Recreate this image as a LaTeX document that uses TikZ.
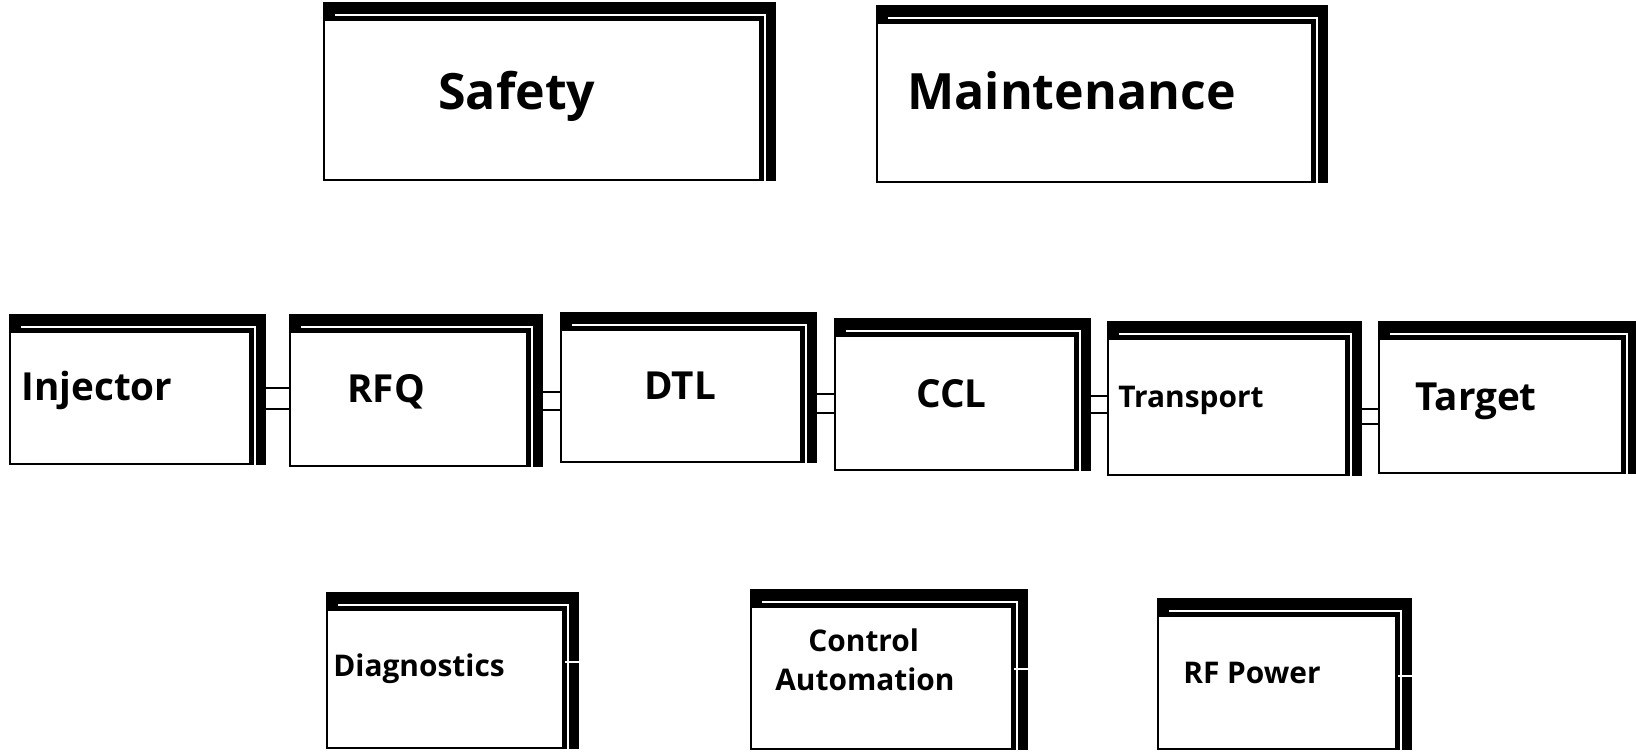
\documentclass[tikz,border=0pt]{standalone}
\usepackage{fontspec}
\setsansfont{Open Sans}
\usetikzlibrary{backgrounds,calc}

\tikzset{
  unit/.style={draw, fill=white, line width=1.1pt, inner sep=0pt},
  boxsize/.style 2 args={minimum width=#1*0.02cm, minimum height=#2*0.02cm},
  lbl/.style={anchor=base west, inner sep=0pt, font=\sffamily\bfseries\fontsize{#1}{#1}\selectfont},
  link/.style={line width=1.1pt},
}

\begin{document}
\begin{tikzpicture}[x=0.02cm, y=-0.02cm]

  \useasboundingbox (0,0) rectangle (1636,753);

  % top row
  \node[unit, boxsize={436}{160}] (saf) at (542,100) {};
  \node[unit, boxsize={435}{159}] (mnt) at (1094.5,102.5) {};

  % beam line
  \node[unit, boxsize={240}{132}] (inj) at (130,398) {};
  \node[unit, boxsize={237}{134}] (rfq) at (408.5,399) {};
  \node[unit, boxsize={240}{132}] (dtl) at (681,396) {};
  \node[unit, boxsize={240}{134}] (ccl) at (955,403) {};
  \node[unit, boxsize={238}{136}] (trn) at (1227,407) {};
  \node[unit, boxsize={243}{134}] (tgt) at (1500.5,406) {};

  % support systems
  \node[unit, boxsize={236}{138}] (dia) at (445,679) {};
  \node[unit, boxsize={261}{142}] (ctl) at (881.5,678) {};
  \node[unit, boxsize={238}{133}] (rfp) at (1277,682.5) {};

  % heavy shadows
  \begin{scope}[on background layer]
    \foreach \n in {saf,mnt,inj,rfq,dtl,ccl,trn,tgt,dia,ctl,rfp} {
      \fill (\n.south west) rectangle ($(\n.north east)+(15,-17)$);
      \draw[white, line width=0.8pt] ($(\n.north west)+(12,-4)$) -- ($(\n.north east)+(4,-4)$) -- ($(\n.south east)+(4,0)$);
    }
  \end{scope}

  \draw[white, line width=1pt] ($(dia.north east)+(1,53)$) -- ++(15,0);
  \draw[white, line width=1pt] ($(ctl.north east)+(1,63)$) -- ++(15,0);
  \draw[white, line width=1pt] ($(rfp.north east)+(1,61)$) -- ++(15,0);

  % double connectors
  \foreach \a/\b/\ya/\yb in {inj/rfq/388/409, rfq/dtl/392/410, dtl/ccl/394/413, ccl/trn/396/413, trn/tgt/409/424} {
    \draw[link] ($(\a.east |- 0,\ya)+(15,0)$) -- (\b.west |- 0,\ya);
    \draw[link] ($(\a.east |- 0,\yb)+(15,0)$) -- (\b.west |- 0,\yb);
  }

  \node[lbl=28.5] (tsaf) at (438,110) {Safety};
  \node[lbl=28.5] (tmnt) at (907,110) {Maintenance};
  \node[lbl=22] (tinj) at (21,400) {Injector};
  \node[lbl=22] (trfq) at (347,402) {RFQ};
  \node[lbl=22] (tdtl) at (644,399) {DTL};
  \node[lbl=22] (tccl) at (916,407) {CCL};
  \node[lbl=17] (ttrn) at (1118,407) {Transport};
  \node[lbl=22] (ttgt) at (1415,410) {Target};
  \node[lbl=17] (tdia) at (333,676) {Diagnostics};
  \node[lbl=17] (tctl) at (808,651) {Control};
  \node[lbl=17] (taut) at (775,690) {Automation};
  \node[lbl=17] (trfp) at (1183,683) {RF Power};

\end{tikzpicture}
\end{document}
